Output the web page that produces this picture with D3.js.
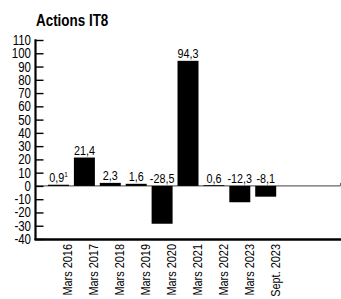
<!DOCTYPE html>
<html><head><meta charset="utf-8">
<script src="https://cdn.jsdelivr.net/npm/d3@7"></script>
<style>
body{margin:0;background:#fff;}
text{font-family:"Liberation Sans",Arial,sans-serif;fill:#000;}
</style></head>
<body><svg id="c" width="341" height="299"></svg>
<script>
const categories = ["Mars 2016","Mars 2017","Mars 2018","Mars 2019","Mars 2020","Mars 2021","Mars 2022","Mars 2023","Sept. 2023"];
const values = [0.9, 21.4, 2.3, 1.6, -28.5, 94.3, 0.6, -12.3, -8.1];
const valueLabels = ["0,9","21,4","2,3","1,6","-28,5","94,3","0,6","-12,3","-8,1"];
const labelNotes = ["1","","","","","","","",""];
const yTicks = [110,100,90,80,70,60,50,40,30,20,10,0,-10,-20,-30,-40];
const title = "Actions IT8";

(function(){
const svg = d3.select("#c");
const mLeft = 35.5, mTop = 40, mBottom = 239;
const y = d3.scaleLinear().domain([-40,110]).range([mBottom, mTop]);
const x = d3.scaleBand().domain(categories).range([46.7, 277.5]).paddingInner(0.19).paddingOuter(0.05);

svg.append("text").attr("transform","translate(36,26) scale(0.79,1)")
  .attr("font-size",17).attr("font-weight","bold").text(title);

// zero line
svg.append("line").attr("x1",mLeft).attr("x2",340.5).attr("y1",y(0)).attr("y2",y(0)).attr("stroke","#666").attr("stroke-width",1.2);
svg.append("line").attr("x1",340.5).attr("x2",340.5).attr("y1",y(0)-3).attr("y2",y(0)).attr("stroke","#666").attr("stroke-width",1);

// bars
svg.selectAll("rect.bar").data(values).join("rect").attr("class","bar")
  .attr("x",(d,i)=>x(categories[i]))
  .attr("width",x.bandwidth())
  .attr("y",d=>y(Math.max(0,d)))
  .attr("height",d=>Math.abs(y(d)-y(0)))
  .attr("fill","#000");

// value labels
const vl = svg.selectAll("text.vl").data(values).join("text").attr("class","vl")
  .attr("transform",(d,i)=>`translate(${x(categories[i])+x.bandwidth()/2},${y(Math.max(0,d))-2.5}) scale(0.8,1)`)
  .attr("text-anchor","middle").attr("font-size",13.5);
vl.each(function(d,i){
  const t=d3.select(this);
  t.append("tspan").text(valueLabels[i]);
  if(labelNotes[i]) t.append("tspan").attr("font-size",8).attr("dy",-5).text(labelNotes[i]);
});

// y axis
const yAxis = d3.axisRight(y).tickValues(yTicks).tickSize(8).tickFormat("");
const ga = svg.append("g").attr("transform",`translate(${mLeft},0)`).call(yAxis);
ga.select(".domain").remove();
ga.selectAll(".tick line").attr("stroke","#000").attr("stroke-width",1.4);
svg.append("line").attr("x1",mLeft).attr("x2",mLeft).attr("y1",mTop-0.7).attr("y2",mBottom+1).attr("stroke","#000").attr("stroke-width",2.2);
svg.selectAll("text.yt").data(yTicks).join("text").attr("class","yt")
  .attr("transform",d=>`translate(31,${y(d)+5}) scale(0.82,1)`)
  .attr("text-anchor","end").attr("font-size",14).text(d=>d);

// bottom axis
svg.append("line").attr("x1",mLeft-1).attr("x2",341).attr("y1",mBottom+0.5).attr("y2",mBottom+0.5).attr("stroke","#000").attr("stroke-width",2.6);

// category labels
svg.selectAll("text.cat").data(categories).join("text").attr("class","cat")
  .attr("transform",d=>`translate(${x(d)+x.bandwidth()/2+14},244) rotate(-90) scale(0.81,1)`)
  .attr("text-anchor","end").attr("font-size",13.5).text(d=>d);
})();
</script></body></html>
